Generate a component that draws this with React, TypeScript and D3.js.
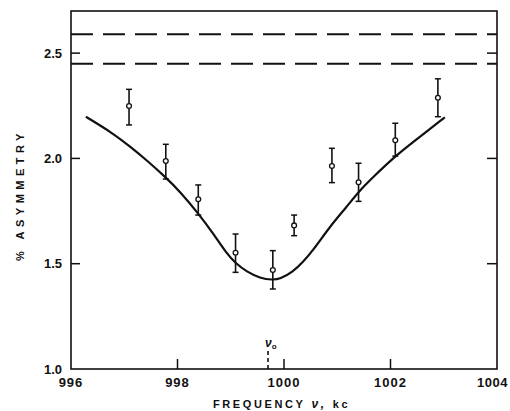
import React from "react";
import * as d3 from "d3";

const W = 510;
const H = 411;
const margin = { left: 71, right: 13, top: 11, bottom: 42 };

// Data
const freqs = [997.09, 997.78, 998.39, 999.09, 999.79, 1000.19, 1000.9, 1001.4, 1002.09, 1002.89];
const asym = [2.249, 1.988, 1.806, 1.552, 1.47, 1.682, 1.964, 1.887, 2.086, 2.288];
const errHi = [2.328, 2.067, 1.874, 1.641, 1.562, 1.731, 2.048, 1.977, 2.167, 2.378];
const errLo = [2.159, 1.902, 1.731, 1.459, 1.38, 1.633, 1.885, 1.796, 2.011, 2.198];

const curveX = [996.28, 996.79, 997.11, 997.42, 997.78, 998.05, 998.39, 998.67, 998.92, 999.09, 999.3, 999.55, 999.79, 999.92, 1000.17, 1000.36, 1000.55, 1000.86, 1001.18, 1001.4, 1001.68, 1002.09, 1002.43, 1003.02];
const curveY = [2.198, 2.119, 2.056, 1.992, 1.91, 1.842, 1.739, 1.644, 1.549, 1.502, 1.462, 1.431, 1.423, 1.427, 1.462, 1.509, 1.565, 1.676, 1.771, 1.842, 1.913, 2.011, 2.079, 2.195];

const dashedLevels = [2.59, 2.45];
const nu0 = 999.7;

const xTicks = [996, 998, 1000, 1002, 1004];
const xTickLabels = ["996", "998", "1000", "1002", "1004"];
const yTicks = [1.0, 1.5, 2.0, 2.5];
const yTickLabels = ["1.0", "1.5", "2.0", "2.5"];

const xTitle = "FREQUENCY";
const yTitle = "% ASYMMETRY";

export default function App() {
  const x = d3.scaleLinear().domain([996, 1004]).range([margin.left, W - margin.right]);
  const y = d3.scaleLinear().domain([1.0, 2.7]).range([H - margin.bottom, margin.top]);
  const x0 = x.range()[0], x1 = x.range()[1];
  const y0 = y.range()[0], y1 = y.range()[1];

  const line = d3
    .line<number>()
    .x((_, i) => x(curveX[i]))
    .y((d) => y(d))
    .curve(d3.curveBasis);

  const font = "'Liberation Sans', Arial, sans-serif";

  return (
    <svg width={W} height={H} style={{ position: "absolute", left: 0, top: 0, background: "#fff" }}>
      <rect x={0} y={0} width={W} height={H} fill="#fff" />
      {/* frame */}
      <rect x={x0} y={y1} width={x1 - x0} height={y0 - y1} fill="none" stroke="#111" strokeWidth={1.6} />

      {/* y ticks left & right */}
      {yTicks.map((t, i) => (
        <g key={"yt" + i}>
          {i > 0 && (
            <>
              <line x1={x0} x2={x0 + 9} y1={y(t)} y2={y(t)} stroke="#111" strokeWidth={1.5} />
              <line x1={x1} x2={x1 - 10} y1={y(t)} y2={y(t)} stroke="#111" strokeWidth={1.5} />
            </>
          )}
          <text
            x={62}
            y={y(t)}
            dy="0.36em"
            textAnchor="end"
            fontFamily={font}
            fontWeight="bold"
            fontSize={13}
            fill="#111"
          >
            {yTickLabels[i]}
          </text>
        </g>
      ))}

      {/* x ticks */}
      {xTicks.map((t, i) => {
        const last = i === xTicks.length - 1;
        return (
          <g key={"xt" + i}>
            {i > 0 && !last && (
              <line x1={x(t)} x2={x(t)} y1={y0} y2={y0 - 10} stroke="#111" strokeWidth={1.5} />
            )}
            <text
              x={last ? W - 2 : x(t)}
              y={y0 + 18}
              textAnchor={last ? "end" : "middle"}
              fontFamily={font}
              fontWeight="bold"
              fontSize={13}
              letterSpacing={last ? 0.5 : 1}
              fill="#111"
            >
              {xTickLabels[i]}
            </text>
          </g>
        );
      })}

      {/* dashed horizontal levels */}
      {dashedLevels.map((v, i) => (
        <line
          key={"dl" + i}
          x1={x0}
          x2={x1}
          y1={y(v)}
          y2={y(v)}
          stroke="#111"
          strokeWidth={2}
          strokeDasharray="22,10"
        />
      ))}

      {/* theory curve */}
      <path d={line(curveY) || ""} fill="none" stroke="#111" strokeWidth={2.2} />

      {/* error bars and points */}
      {freqs.map((f, i) => (
        <g key={"p" + i}>
          <line x1={x(f)} x2={x(f)} y1={y(errLo[i])} y2={y(errHi[i])} stroke="#111" strokeWidth={1.6} />
          <line x1={x(f) - 3} x2={x(f) + 3} y1={y(errLo[i])} y2={y(errLo[i])} stroke="#111" strokeWidth={1.5} />
          <line x1={x(f) - 3} x2={x(f) + 3} y1={y(errHi[i])} y2={y(errHi[i])} stroke="#111" strokeWidth={1.5} />
          <circle cx={x(f)} cy={y(asym[i])} r={2.4} fill="#fff" stroke="#111" strokeWidth={1.3} />
        </g>
      ))}

      {/* nu0 marker */}
      <line x1={x(nu0)} x2={x(nu0)} y1={y0} y2={y0 - 21} stroke="#111" strokeWidth={1.6} strokeDasharray="4,3" />
      <text x={x(nu0) - 3} y={y0 - 22} fontFamily={font} fontStyle="italic" fontWeight="bold" fontSize={12} fill="#111">
        ν
        <tspan fontSize={8} fontStyle="normal" dy={2}>
          o
        </tspan>
      </text>

      {/* axis titles */}
      <text x={213} y={408} fontFamily={font} fontWeight="bold" fontSize={11} letterSpacing={2.6} fill="#111">
        {xTitle}
        <tspan dx={6} fontStyle="italic" fontSize={12}>ν,</tspan>
        <tspan dx={6}>kc</tspan>
      </text>
      <text
        transform={`translate(24, 195) rotate(-90)`}
        textAnchor="middle"
        fontFamily={font}
        fontWeight="bold"
        fontSize={11}
        letterSpacing={4.5}
        fill="#111"
      >
        {yTitle}
      </text>
    </svg>
  );
}
